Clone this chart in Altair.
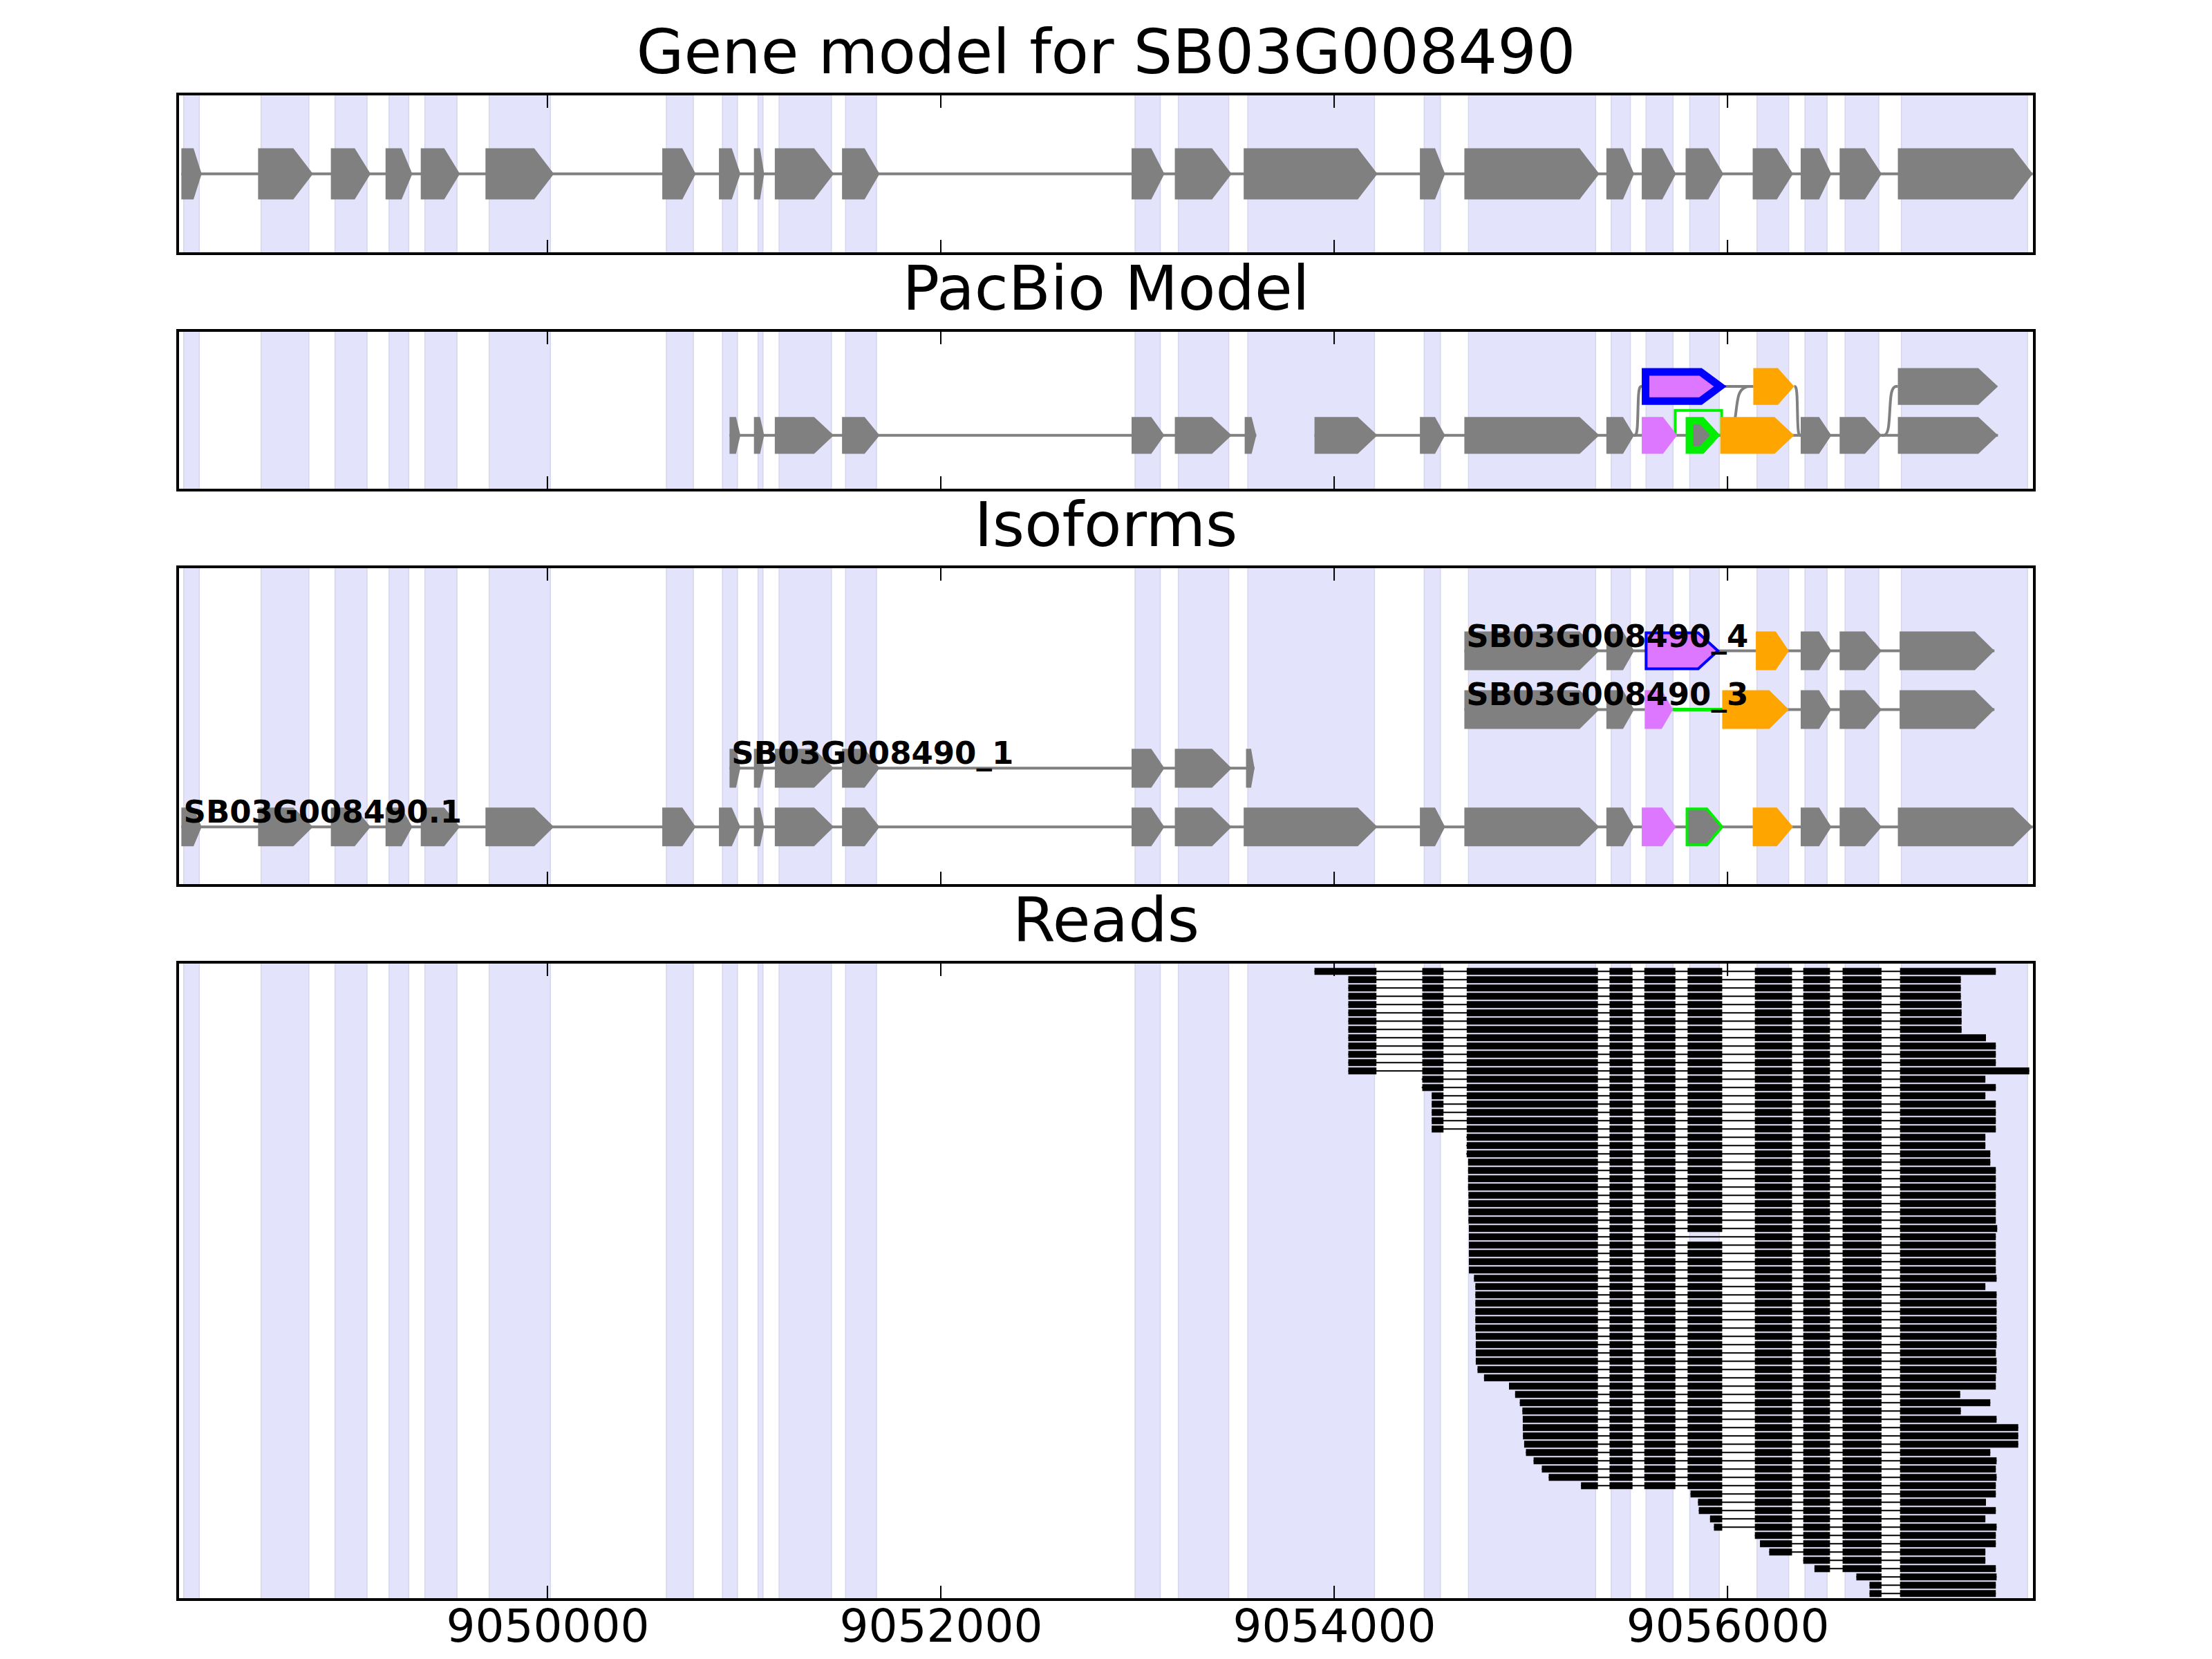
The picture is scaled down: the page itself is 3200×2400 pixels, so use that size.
import altair as alt
import pandas as pd

# ---------------- data ----------------
X_DOMAIN = [9048120, 9057560]
TICKS = [9050000, 9052000, 9054000, 9056000]

TITLES = ["Gene model for SB03G008490", "PacBio Model", "Isoforms", "Reads"]

BAND_START = [9048151, 9048544, 9048920, 9049195, 9049377, 9049704, 9050605,
              9050890, 9051071, 9051178, 9051516, 9052988, 9053208, 9053561,
              9054458, 9054683, 9055409, 9055586, 9055808, 9056150, 9056394,
              9056598, 9056884]
BAND_END = [9048230, 9048787, 9049083, 9049295, 9049540, 9050015, 9050742,
            9050966, 9051096, 9051444, 9051673, 9053116, 9053464, 9054205,
            9054540, 9055329, 9055506, 9055723, 9055958, 9056311, 9056506,
            9056769, 9057525]

GENE_START = [9048139, 9048529, 9048899, 9049177, 9049356, 9049685, 9050584,
              9050872, 9051050, 9051156, 9051498, 9052970, 9053190, 9053540,
              9054436, 9054662, 9055384, 9055564, 9055787, 9056128, 9056372,
              9056570, 9056866]
GENE_END = [9048242, 9048808, 9049101, 9049313, 9049555, 9050033, 9050754,
            9050981, 9051102, 9051456, 9051689, 9053137, 9053479, 9054220,
            9054564, 9055348, 9055525, 9055738, 9055979, 9056333, 9056528,
            9056784, 9057552]

# PacBio model: lower row (two transcripts) and upper row (alternative exons)
PB_A_START = [9050926, 9051050, 9051156, 9051498, 9052970, 9053190, 9053545]
PB_A_END = [9050981, 9051102, 9051456, 9051689, 9053137, 9053479, 9053604]
PB_B_START = [9053900, 9054436, 9054662, 9055384, 9055564, 9055787, 9055963,
              9056372, 9056570, 9056866]
PB_B_END = [9054220, 9054564, 9055348, 9055525, 9055744, 9055956, 9056339,
            9056528, 9056784, 9057375]
PB_B_KIND = ["g", "g", "g", "g", "v", "G", "o", "g", "g", "g"]
PB_UP_START = [9055564, 9056131, 9056866]
PB_UP_END = [9055982, 9056339, 9057375]
PB_UP_KIND = ["B", "o", "g"]
PB_LINKS = [(9055525, 0, 9055564, 1), (9055956, 0, 9056131, 1),
            (9056339, 1, 9056372, 0), (9056784, 0, 9056866, 1)]
PB_SKIP = [9055734, 9055970]
PB_SKIP_HEIGHT = 0.51

# Isoforms
ISO_NAMES = ["SB03G008490.1", "SB03G008490_1", "SB03G008490_3", "SB03G008490_4"]
ISO_LABEL_X = [9048150, 9050936, 9054672, 9054672]
ISO0_KIND = ["g"] * 17 + ["v", "G", "o"] + ["g"] * 3
ISO1_START = [9050926, 9051050, 9051156, 9051498, 9052970, 9053190, 9053552]
ISO1_END = [9050981, 9051102, 9051456, 9051689, 9053137, 9053479, 9053595]
ISO3_START = [9054662, 9055384, 9055579, 9055973, 9056372, 9056570, 9056875]
ISO3_END = [9055348, 9055525, 9055723, 9056312, 9056528, 9056784, 9057357]
ISO3_KIND = ["g", "g", "v", "o", "g", "g", "g"]
ISO3_SKIP = [9055723, 9055973]
ISO4_START = [9054662, 9055384, 9055579, 9056144, 9056372, 9056570, 9056875]
ISO4_END = [9055348, 9055525, 9055958, 9056312, 9056528, 9056784, 9057357]
ISO4_KIND = ["g", "g", "B", "o", "g", "g", "g"]

# Reads: exon blocks used by the reads, and each read's start / end
READ_EX_START = [9053540, 9054448, 9054674, 9055400, 9055577, 9055797,
                 9056139, 9056385, 9056585, 9056877]
READ_EX_END = [9054215, 9054556, 9055341, 9055517, 9055735, 9055973,
               9056328, 9056521, 9056783, 9057600]
READ_START = [9053900,
              9054072, 9054072, 9054072, 9054072, 9054072, 9054072,
              9054072, 9054072, 9054072, 9054072, 9054072, 9054072,
              9054445, 9054445,
              9054496, 9054496, 9054496, 9054496, 9054496,
              9054672, 9054672, 9054672,
              9054681, 9054681, 9054681, 9054681, 9054683, 9054683, 9054683,
              9054683, 9054685, 9054685, 9054685, 9054685, 9054685, 9054685,
              9054711,
              9054718, 9054718, 9054718, 9054718, 9054718, 9054718,
              9054720, 9054720, 9054720, 9054720,
              9054729, 9054762, 9054889, 9054920, 9054944, 9054957, 9054959,
              9054959, 9054960, 9054966, 9054975, 9055014, 9055056, 9055091,
              9055255, 9055812, 9055850, 9055854, 9055911, 9055931, 9056139,
              9056165, 9056212, 9056385, 9056442, 9056655, 9056722, 9056722]
READ_END = [9057364,
            9057186, 9057186, 9057186, 9057190, 9057190, 9057190, 9057190,
            9057314, 9057364, 9057364, 9057364, 9057534, 9057311, 9057364,
            9057311, 9057364, 9057364, 9057364, 9057364, 9057311, 9057311,
            9057336, 9057336, 9057364, 9057364, 9057364, 9057364, 9057364,
            9057364, 9057364, 9057371, 9057364, 9057364, 9057364, 9057364,
            9057364, 9057368, 9057311, 9057368, 9057368, 9057368, 9057368,
            9057368, 9057368, 9057368, 9057364, 9057368, 9057368, 9057364,
            9057364, 9057183, 9057336, 9057186, 9057368, 9057478, 9057478,
            9057478, 9057336, 9057368, 9057364, 9057368, 9057364, 9057364,
            9057314, 9057364, 9057311, 9057368, 9057364, 9057364, 9057311,
            9057311, 9057364, 9057368, 9057364, 9057364]
READ_SKIP = {33: 5}

# ---------------- style ----------------
COLORS = {"g": "#808080", "v": "#DD77FF", "o": "#FFA500", "G": "#808080", "B": "#DD77FF"}
OUTLINE = {"G": "#00EE00", "B": "#0000FF"}
GRAY = "#808080"
GREEN = "#00EE00"
BAND_FILL = "#E3E3FB"
BAND_EDGE = "#D5D5EC"
FONT = "DejaVu Sans"

W = 2686
H = [231, 231, 461, 922]
BP_PER_PX = (X_DOMAIN[1] - X_DOMAIN[0]) / W
HEAD_BP, HEAD_FRAC = 100, 0.4

# y geometry of each gene panel: (domain, px per unit, exon half height, outline width)
P1 = dict(domain=[-1.25, 1.25], ppu=92.4, half=0.4, sw=4)
P2 = dict(domain=[-1.12, 2.147], ppu=70.7, half=0.377, sw=11)
P3 = dict(domain=[-0.998, 4.432], ppu=84.9, half=0.33, sw=4)

x_scale = alt.Scale(domain=X_DOMAIN, nice=False, zero=False)
AX4 = alt.Axis(values=TICKS, format="d", labelFontSize=66, labelFont=FONT,
               labelColor="black", ticks=False, domain=False, grid=False,
               labelPadding=8, title=None, labelFlush=False, labelLimit=0,
               labelOverlap=False)


def X(field, axis=None):
    return alt.X(field, type="quantitative", scale=x_scale, axis=axis)


def exon_records(starts, ends, rows, kinds, geo, prefix):
    recs = []
    for i, (s, e, r, k) in enumerate(zip(starts, ends, rows, kinds)):
        outlined = k in OUTLINE
        sw = geo["sw"] if outlined else 0
        ix = sw / 2.0 * BP_PER_PX
        iy = sw / 2.0 / geo["ppu"]
        head = min(HEAD_BP, HEAD_FRAC * (e - s))
        a, b = s + ix, e - ix
        hh = geo["half"] - iy
        eid = f"{prefix}{i}"
        for x, lo, hi in ((a, r - hh, r + hh), (b - head, r - hh, r + hh), (b, r, r)):
            recs.append(dict(id=eid, x=x, lo=lo, hi=hi, fill=COLORS[k],
                             stroke=OUTLINE.get(k, "none"), outlined=outlined))
    return recs


def exon_layers(recs, geo, ax=None):
    df = pd.DataFrame(recs)
    ys = alt.Scale(domain=geo["domain"], nice=False, zero=False)
    plain = df[~df["outlined"]]
    outl = df[df["outlined"]]
    layers = [alt.Chart(plain).mark_area(orient="vertical", opacity=1).encode(
        x=X("x", ax), y=alt.Y("lo:Q", scale=ys, axis=None), y2="hi:Q",
        detail="id:N", color=alt.Color("fill:N", scale=None))]
    if len(outl):
        layers.append(alt.Chart(outl).mark_area(
            orient="vertical", opacity=1, strokeWidth=geo["sw"], strokeJoin="miter").encode(
            x=X("x", ax), y=alt.Y("lo:Q", scale=ys, axis=None), y2="hi:Q",
            detail="id:N", fill=alt.Fill("fill:N", scale=None),
            stroke=alt.Stroke("stroke:N", scale=None)))
    return layers


def line_layer(segs, geo, color, width):
    df = pd.DataFrame(segs, columns=["s", "e", "row"])
    ys = alt.Scale(domain=geo["domain"], nice=False, zero=False)
    return alt.Chart(df).mark_rule(color=color, strokeWidth=width).encode(
        x=X("s"), x2="e:Q", y=alt.Y("row:Q", scale=ys, axis=None))


def band_layer(ax=None):
    df = pd.DataFrame({"s": BAND_START, "e": BAND_END})
    return alt.Chart(df).mark_rect(fill=BAND_FILL, stroke=BAND_EDGE, strokeWidth=1.5).encode(
        x=X("s", ax), x2="e:Q")


def tick_layers(h, ax=None):
    df = pd.DataFrame({"t": TICKS})
    top = alt.Chart(df).mark_rule(color="black", strokeWidth=2).encode(
        x=X("t", ax), y=alt.value(0), y2=alt.value(20))
    bot = alt.Chart(df).mark_rule(color="black", strokeWidth=2).encode(
        x=X("t", ax), y=alt.value(h - 20), y2=alt.value(h))
    return [top, bot]


def frame_layer(h):
    return alt.Chart(pd.DataFrame({"a": [0]})).mark_rect(
        filled=False, stroke="black", strokeWidth=4).encode(
        x=alt.value(0), x2=alt.value(W), y=alt.value(0), y2=alt.value(h))


def panel(layers, h, title):
    return alt.layer(*layers).properties(
        width=W, height=h,
        title=alt.TitleParams(title, font=FONT, fontSize=89, fontWeight="normal",
                              color="black", offset=-61, baseline="alphabetic"))


# ---------------- panel 1: gene model ----------------
p1_layers = [band_layer(),
             line_layer([(GENE_START[0], GENE_END[-1], 0)], P1, GRAY, 4)]
p1_layers += exon_layers(exon_records(GENE_START, GENE_END, [0] * len(GENE_START),
                                      ["g"] * len(GENE_START), P1, "g"), P1)
p1_layers += tick_layers(H[0]) + [frame_layer(H[0])]
p1 = panel(p1_layers, H[0], TITLES[0])

# ---------------- panel 2: PacBio model ----------------
ys2 = alt.Scale(domain=P2["domain"], nice=False, zero=False)
link_recs = []
for i, (x1, r1, x2, r2) in enumerate(PB_LINKS):
    xm = (x1 + x2) / 2.0
    for o, (x, y) in enumerate(((x1, r1), (xm, r1), (xm, r2), (x2, r2))):
        link_recs.append(dict(id=i, o=o, x=x, y=y))
links = alt.Chart(pd.DataFrame(link_recs)).mark_line(
    color=GRAY, strokeWidth=4, interpolate="basis").encode(
    x=X("x"), y=alt.Y("y:Q", scale=ys2, axis=None), detail="id:N", order="o:Q")
skip_df = pd.DataFrame({"x": [PB_SKIP[0], PB_SKIP[0], PB_SKIP[1], PB_SKIP[1]],
                        "y": [0, PB_SKIP_HEIGHT, PB_SKIP_HEIGHT, 0], "o": [0, 1, 2, 3]})
skip = alt.Chart(skip_df).mark_line(color=GREEN, strokeWidth=4).encode(
    x=X("x"), y=alt.Y("y:Q", scale=ys2, axis=None), order="o:Q")

p2_layers = [band_layer(),
             line_layer([(PB_A_START[0], PB_A_END[-1], 0),
                         (PB_B_START[0], PB_B_END[-1], 0),
                         (PB_UP_END[0], PB_UP_START[1], 1)], P2, GRAY, 4),
             links, skip]
p2_recs = (exon_records(PB_A_START, PB_A_END, [0] * len(PB_A_START), ["g"] * len(PB_A_START), P2, "a")
           + exon_records(PB_B_START, PB_B_END, [0] * len(PB_B_START), PB_B_KIND, P2, "b")
           + exon_records(PB_UP_START, PB_UP_END, [1] * len(PB_UP_START), PB_UP_KIND, P2, "u"))
p2_layers += exon_layers(p2_recs, P2)
p2_layers += tick_layers(H[1]) + [frame_layer(H[1])]
p2 = panel(p2_layers, H[1], TITLES[1])

# ---------------- panel 3: isoforms ----------------
ys3 = alt.Scale(domain=P3["domain"], nice=False, zero=False)
p3_layers = [band_layer(),
             line_layer([(GENE_START[0], GENE_END[-1], 0),
                         (ISO1_START[0], ISO1_END[-1], 1),
                         (ISO3_START[0], ISO3_END[-1], 2),
                         (ISO4_START[0], ISO4_END[-1], 3)], P3, GRAY, 4),
             line_layer([(ISO3_SKIP[0], ISO3_SKIP[1], 2)], P3, GREEN, 5)]
p3_recs = (exon_records(GENE_START, GENE_END, [0] * len(GENE_START), ISO0_KIND, P3, "r0_")
           + exon_records(ISO1_START, ISO1_END, [1] * len(ISO1_START), ["g"] * len(ISO1_START), P3, "r1_")
           + exon_records(ISO3_START, ISO3_END, [2] * len(ISO3_START), ISO3_KIND, P3, "r2_")
           + exon_records(ISO4_START, ISO4_END, [3] * len(ISO4_START), ISO4_KIND, P3, "r3_"))
p3_layers += exon_layers(p3_recs, P3)
labels = alt.Chart(pd.DataFrame({"x": ISO_LABEL_X, "row": [0, 1, 2, 3], "name": ISO_NAMES})).mark_text(
    align="left", baseline="alphabetic", dy=-6, font=FONT, fontWeight="bold",
    fontSize=45, color="black").encode(
    x=X("x"), y=alt.Y("row:Q", scale=ys3, axis=None), text="name:N")
p3_layers += [labels] + tick_layers(H[2]) + [frame_layer(H[2])]
p3 = panel(p3_layers, H[2], TITLES[2])

# ---------------- panel 4: reads ----------------
blocks, introns = [], []
for k, (s, e) in enumerate(zip(READ_START, READ_END), start=1):
    introns.append(dict(s=s, e=e, row=k))
    for j, (a, b) in enumerate(zip(READ_EX_START, READ_EX_END)):
        if READ_SKIP.get(k) == j:
            continue
        lo, hi = max(a, s), min(b, e)
        if hi > lo:
            blocks.append(dict(s=lo, e=hi, row=k))
ys4 = alt.Scale(domain=[-0.11, 76.72], nice=False, zero=False, reverse=True)
read_lines = alt.Chart(pd.DataFrame(introns)).mark_rule(color="black", strokeWidth=2).encode(
    x=X("s", AX4), x2="e:Q", y=alt.Y("row:Q", scale=ys4, axis=None))
read_blocks = alt.Chart(pd.DataFrame(blocks)).mark_rule(color="black", strokeWidth=10).encode(
    x=X("s", AX4), x2="e:Q", y=alt.Y("row:Q", scale=ys4, axis=None))
p4_layers = [band_layer(AX4), read_lines, read_blocks] + tick_layers(H[3], AX4) + [frame_layer(H[3])]
p4 = panel(p4_layers, H[3], TITLES[3])

chart = alt.vconcat(p1, p2, p3, p4, spacing=111, bounds="flush").configure_view(
    strokeWidth=0).properties(
    padding={"left": 247, "top": 27, "right": 10, "bottom": 0})

chart.save("out.html", embed_options={"renderer": "svg", "actions": False})
